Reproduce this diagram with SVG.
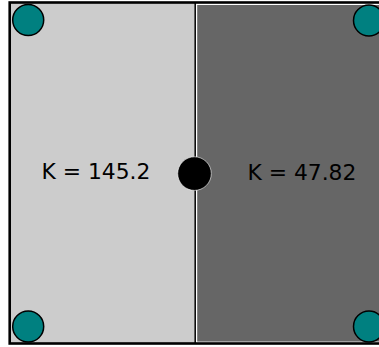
<svg xmlns="http://www.w3.org/2000/svg" width="379" height="347" viewBox="0 0 379 347">
<style>
.region-l{fill:#cccccc;stroke:none}
.region-r{fill:#666666;stroke:#ffffff;stroke-width:1.2}
.frame{fill:none;stroke:#000000;stroke-width:2.6}
.corner{fill:#008080;stroke:#000000;stroke-width:1.5}
.label{font-family:"DejaVu Sans",sans-serif;font-size:21.8px;fill:#000000}
</style>
<rect width="379" height="347" fill="#ffffff"/>
<g id="region-left">
<rect class="region-l" x="10" y="3" width="185.5" height="340"/>
<text class="label" x="41.5" y="179">K = 145.2</text>
</g>
<g id="region-right">
<rect class="region-r" x="196.6" y="4.4" width="200" height="337.8"/>
<text class="label" x="247.5" y="180">K = 47.82</text>
</g>
<g id="connectors">
<line x1="195.2" y1="3" x2="195.2" y2="343" stroke="#000000" stroke-width="1.5"/>
</g>
<g id="frame">
<rect class="frame" x="9.7" y="2.5" width="400" height="341"/>
</g>
<g id="node-center">
<circle cx="194.5" cy="173.6" r="16.8" fill="#000000" stroke="#ffffff" stroke-width="0.6"/>
</g>
<g id="node-tl"><circle class="corner" cx="28.2" cy="20" r="15.5"/></g>
<g id="node-tr"><circle class="corner" cx="369" cy="20.5" r="15.5"/></g>
<g id="node-bl"><circle class="corner" cx="28.2" cy="326.5" r="15.5"/></g>
<g id="node-br"><circle class="corner" cx="369" cy="326.5" r="15.5"/></g>
</svg>
